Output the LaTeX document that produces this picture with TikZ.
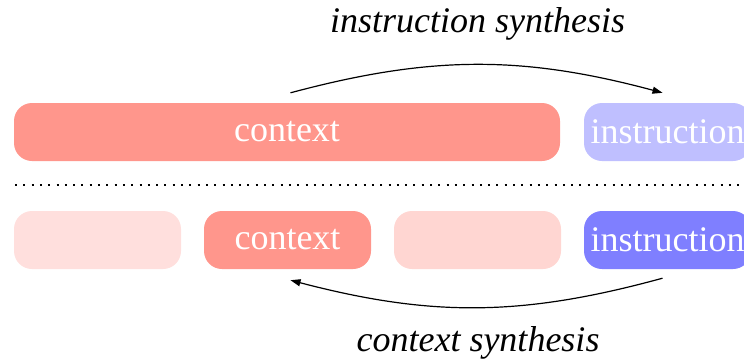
\documentclass[tikz,border=0pt]{standalone}
\usepackage{fontspec}
\setmainfont{Liberation Serif}
\usepackage{xcolor}
\usetikzlibrary{arrows.meta,calc}

\definecolor{ctxred}{HTML}{FF968C}
\definecolor{ctxpale}{HTML}{FFDFDD}
\definecolor{ctxlight}{HTML}{FFD6D2}
\definecolor{instpale}{HTML}{BFBFFF}
\definecolor{instblue}{HTML}{7F7FFF}

\tikzset{
  seg/.style={rounded corners=18pt, minimum height=58pt, minimum width=167pt,
    inner sep=0pt, text=white, font=\fontsize{36}{40}\selectfont},
  syn/.style={-{Triangle[length=10pt,width=7pt]}, line width=1.2pt},
  synlabel/.style={font=\fontsize{36}{40}\selectfont\itshape}
}

\begin{document}
\begin{tikzpicture}[x=1pt,y=-1pt]
		% 画布
		\useasboundingbox (0,0) rectangle (744,360);
		\clip (0,0) rectangle (744,360);
		% 上一行
		\node[seg, fill=ctxred, minimum width=546pt] (ctxtop) at (287,132) {context};
		\node[seg, fill=instpale] (insttop) at (667.5,132) {instruction};
		% 分隔虚线
		\draw[line width=2pt, dash pattern=on 2pt off 6.3pt] (15,185) -- (744,185);
		% 下一行
		\node[seg, fill=ctxpale] (pad1) at (97.5,240) {};
		\node[seg, fill=ctxred] (ctxbot) at (287.5,240) {context};
		\node[seg, fill=ctxlight] (pad3) at (477.5,240) {};
		\node[seg, fill=instblue] (instbot) at (667.5,240) {instruction};
		% 箭头
		\draw[syn] ($(ctxbot |- ctxtop.north)+(3,-10)$) to[bend left=15]
			($(instbot |- insttop.north)+(-5,-10)$);
		\draw[syn] ($(instbot.south)+(-5,9)$) to[bend left=15]
			($(ctxbot.south)+(3,11)$);
		% 标签
		\node[synlabel] (instsyn) at (477.5,24) {instruction synthesis};
		\node[synlabel] (ctxsyn) at (478,343) {context synthesis};
	\end{tikzpicture}
\end{document}
